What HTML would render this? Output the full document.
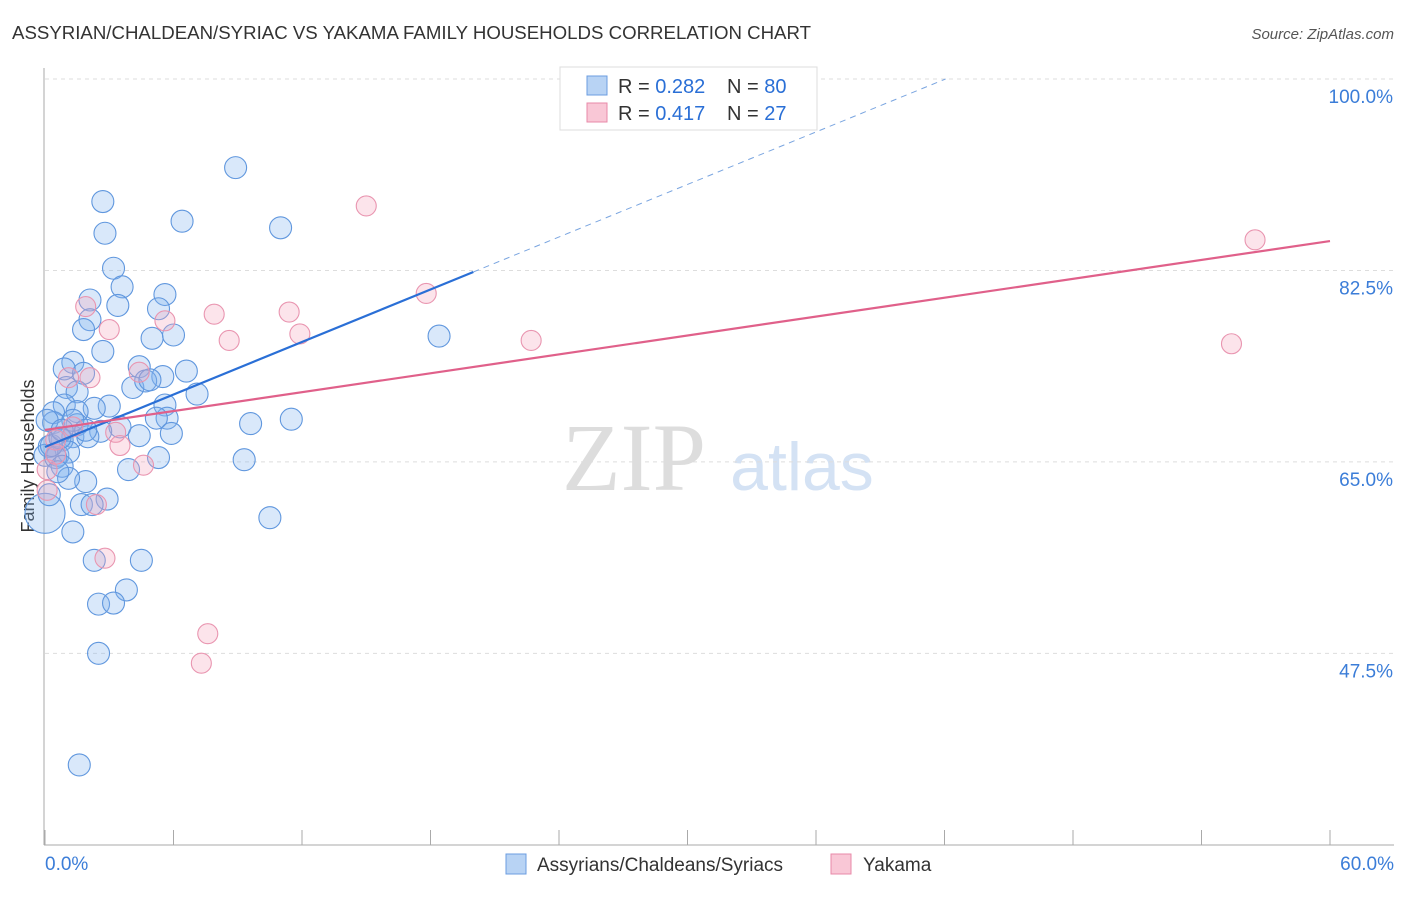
<!DOCTYPE html>
<html><head><meta charset="utf-8"><style>
body{margin:0;background:#fff;font-family:"Liberation Sans",sans-serif}
</style></head><body>
<svg id="c" width="1406" height="892" xmlns="http://www.w3.org/2000/svg" style="font-family:'Liberation Sans',sans-serif">
<text x="12" y="39" font-size="18" fill="#333" textLength="799" lengthAdjust="spacingAndGlyphs">ASSYRIAN/CHALDEAN/SYRIAC VS YAKAMA FAMILY HOUSEHOLDS CORRELATION CHART</text>
<text x="1394" y="39" font-size="15" fill="#555" font-style="italic" text-anchor="end">Source: ZipAtlas.com</text>
<text x="634" y="490" font-size="96" fill="#ddd" font-family="Liberation Serif,serif" text-anchor="middle">ZIP</text>
<text x="802" y="490" font-size="68" fill="#d4e2f4" text-anchor="middle">atlas</text>
<text transform="translate(34,456) rotate(-90)" font-size="18" fill="#333" text-anchor="middle">Family Households</text>
<g id="grid"></g><g id="axes"></g><g id="marks"></g><g id="lines"></g>
<g>
<rect x="560" y="67" width="257" height="63" fill="#fff" stroke="#ddd"/>
<rect x="587" y="76" width="20" height="19" fill="#b8d3f4" stroke="#6b9de0"/>
<rect x="587" y="103" width="20" height="19" fill="#f9c7d6" stroke="#e88aa8"/>
<text x="618" y="93" font-size="20" fill="#333">R = <tspan fill="#2a6fd6">0.282</tspan><tspan x="727">N = </tspan><tspan fill="#2a6fd6">80</tspan></text>
<text x="618" y="120" font-size="20" fill="#333">R = <tspan fill="#2a6fd6"> 0.417</tspan><tspan x="727">N = </tspan><tspan fill="#2a6fd6"> 27</tspan></text>
</g>
<g>
<rect x="506" y="854" width="20" height="20" fill="#b8d3f4" stroke="#6b9de0"/>
<text x="537" y="871" font-size="19" fill="#333">Assyrians/Chaldeans/Syriacs</text>
<rect x="831" y="854" width="20" height="20" fill="#f9c7d6" stroke="#e88aa8"/>
<text x="863" y="871" font-size="19" fill="#333">Yakama</text>
</g>
</svg>
<script>
const yTicks=[100,82.5,65,47.5];
const yTickLabels=["100.0%","82.5%","65.0%","47.5%"];
const xTickLabels=["0.0%","60.0%"];
const blueX=[8.9,2.7,6.4,11.0,2.8,3.2,3.6,2.1,5.6,3.4,5.3,2.1,5.0,6.0,1.8,2.7,1.3,0.9,4.4,6.6,1.8,5.5,4.1,4.7,1.0,1.5,7.1,5.6,5.7,5.2,3.0,2.3,0.9,1.5,0.4,0.4,3.5,2.6,1.5,1.3,2.0,0.8,4.4,5.9,9.6,11.5,18.4,0.2,0.6,1.1,0.0,0.5,0.8,5.3,3.9,9.3,1.9,1.1,2.9,1.7,2.2,1.3,10.5,2.3,4.5,3.8,2.5,3.2,2.5,1.6,0.6,0.0,0.3,0.7,0.1,1.3,1.9,4.9,0.8,0.2];
const blueY=[91.9,88.8,87.0,86.4,85.9,82.7,81.0,79.8,80.3,79.3,79.0,78.0,76.3,76.6,77.1,75.1,74.1,73.5,73.7,73.3,73.1,72.8,71.8,72.4,71.8,71.4,71.2,70.2,69.0,69.0,70.1,69.9,70.2,69.6,69.5,68.6,68.2,67.8,68.4,67.3,67.3,67.0,67.4,67.6,68.5,68.9,76.5,66.4,65.6,65.9,65.6,65.4,64.6,65.4,64.3,65.2,63.2,63.5,61.6,61.1,61.1,58.6,59.9,56.0,56.0,53.3,52.0,52.1,47.5,37.3,64.1,60.3,66.5,67.2,68.8,68.8,67.9,72.5,67.9,62.0];
const blueSize=blueX.map((_,i)=>i===71?20:11);
const pinkX=[15.0,56.5,1.9,3.0,5.6,7.9,11.4,8.6,11.9,17.8,22.7,55.4,1.1,2.1,4.4,1.3,3.3,3.5,4.6,0.1,0.5,0.1,2.4,2.8,7.6,7.3,0.5];
const pinkY=[88.4,85.3,79.2,77.1,77.9,78.5,78.7,76.1,76.7,80.4,76.1,75.8,72.7,72.7,73.2,68.2,67.7,66.5,64.7,64.3,65.7,62.4,61.1,56.2,49.3,46.6,67.0];
const blueTrend=[66.36,0.8];
const pinkTrend=[67.92,0.2878];
const NS="http://www.w3.org/2000/svg";
const X0=45,X1=1330,Y100=79,PX=10.94;
const sx=v=>X0+(X1-X0)*v/60, sy=v=>Y100+(100-v)*PX;
function mk(t,a,p){const e=document.createElementNS(NS,t);for(const k in a)e.setAttribute(k,a[k]);document.getElementById(p).appendChild(e);return e;}
yTicks.forEach((t,i)=>{
 const g=mk('line',{x1:45,x2:1394,y1:sy(t),y2:sy(t),stroke:'#ddd','stroke-dasharray':'4,4'},'grid');
 
 
 const l=mk('text',{x:1393,y:sy(t)+24,'font-size':19,fill:'#3b7dd8','text-anchor':'end'},'axes');
 l.textContent=yTickLabels[i];
 
 
});
let a=mk('line',{x1:44,x2:44,y1:68,y2:845,stroke:'#aaa'},'axes');


a=mk('line',{x1:44,x2:1394,y1:845,y2:845,stroke:'#aaa'},'axes');


for(let i=0;i<=10;i++){const t=mk('line',{x1:sx(i*6),x2:sx(i*6),y1:830,y2:845,stroke:'#aaa'},'axes');
 
 }
[[0,'start',45],[60,'end',1394]].forEach((d,i)=>{const t=mk('text',{x:d[2],y:870,'font-size':19,fill:'#3b7dd8','text-anchor':d[1]},'axes');t.textContent=xTickLabels[i];
 
 });
blueX.forEach((x,i)=>{const c=mk('circle',{cx:sx(x),cy:sy(blueY[i]),r:blueSize[i],fill:'rgba(130,178,238,0.3)',stroke:'#6097de','stroke-width':1.1},'marks');
 
 });
pinkX.forEach((x,i)=>{const c=mk('circle',{cx:sx(x),cy:sy(pinkY[i]),r:10,fill:'rgba(245,165,190,0.3)',stroke:'#e995b0','stroke-width':1.1},'marks');
 
 });
let l=mk('line',{x1:sx(0),y1:sy(blueTrend[0]),x2:sx(20),y2:sy(blueTrend[0]+20*blueTrend[1]),stroke:'#2a6fd6','stroke-width':2.2},'lines');


const xe=(100-blueTrend[0])/blueTrend[1];
l=mk('line',{x1:sx(20),y1:sy(blueTrend[0]+20*blueTrend[1]),x2:sx(xe),y2:sy(100),stroke:'#7aa5e0','stroke-width':1,'stroke-dasharray':'6,5'},'lines');


l=mk('line',{x1:sx(0),y1:sy(pinkTrend[0]),x2:sx(60),y2:sy(pinkTrend[0]+60*pinkTrend[1]),stroke:'#e0608a','stroke-width':2.2},'lines');


</script>
</body></html>
